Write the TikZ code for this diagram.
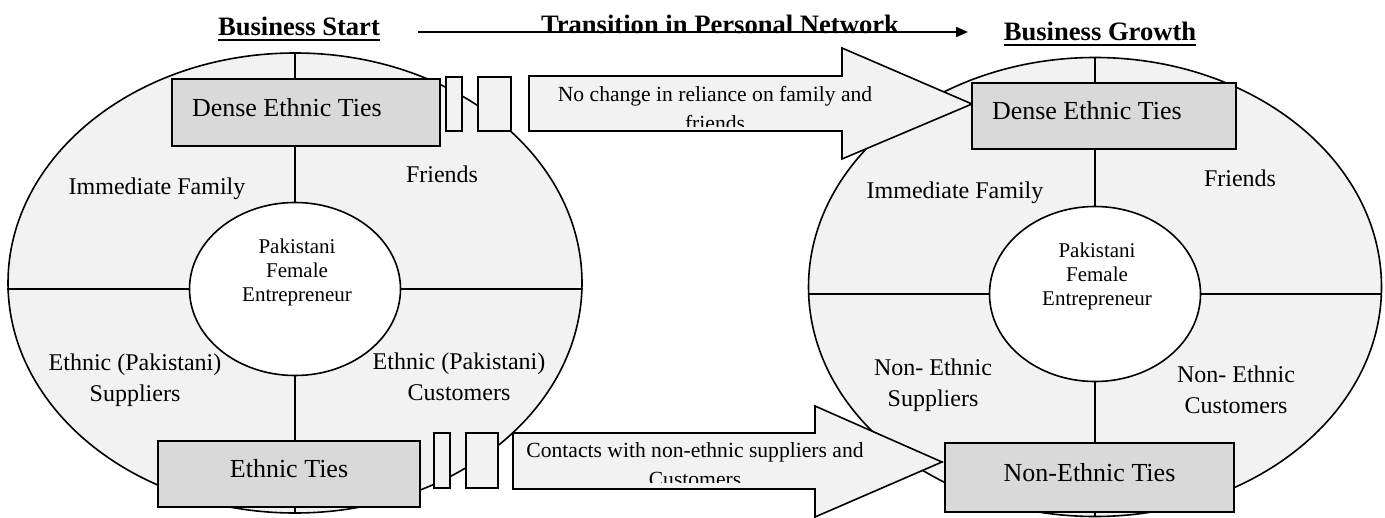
\documentclass[tikz,border=0pt]{standalone}
\usepackage{fontspec}
\setmainfont{Liberation Serif}
\usetikzlibrary{arrows.meta,shapes.geometric}

\definecolor{ringgray}{HTML}{F2F2F2}
\definecolor{tiesgray}{HTML}{D9D9D9}

% heavy underline for the stage headings
\newcommand{\stageul}[1]{\setbox0\hbox{#1}\copy0\llap{\rule[-2.6pt]{\wd0}{1.2pt}}}

\tikzset{
  ring/.style={draw, ellipse, line width=0.8pt, fill=ringgray, inner sep=0pt},
  core/.style={draw, ellipse, line width=0.8pt, fill=white, inner sep=0pt},
  coretext/.style={align=center, font=\fontsize{10.5}{12}\selectfont},
  sector/.style={align=center, font=\fontsize{12}{15.5}\selectfont},
  ties/.style={draw, line width=0.8pt, fill=tiesgray, inner sep=0pt, text depth=5.5pt,
    font=\fontsize{13}{15}\selectfont},
  densetie/.style={ties, inner xsep=10pt, align=flush left},
  slot/.style={draw, line width=0.8pt, fill=ringgray, inner sep=0pt},
  bigarrow/.style={draw, line width=0.8pt, fill=ringgray},
  arrownote/.style={align=center, font=\fontsize{10.8}{14.5}\selectfont},
  stage/.style={anchor=base, font=\fontsize{13.3}{16}\selectfont\bfseries},
}

\begin{document}
\begin{tikzpicture}[x=0.5pt, y=-0.5pt]
  \useasboundingbox (0,0) rectangle (1385,518);

  %%% network at business start
  \node[ring, minimum width=287pt, minimum height=230pt] (ringL) at (295,283) {};
  \node[core, minimum width=105.5pt, minimum height=86.5pt] (coreL) at (295,289) {};
  \draw[line width=0.8pt] (ringL.north) -- (coreL.north);
  \draw[line width=0.8pt] (coreL.south) -- (ringL.south);
  \draw[line width=0.8pt] (ringL.west |- coreL) -- (coreL.west);
  \draw[line width=0.8pt] (coreL.east) -- (ringL.east |- coreL);

  \node[coretext] (whoL) at (297,272) {Pakistani\\Female\\Entrepreneur};
  \node[sector] (familyL) at (157,189) {Immediate Family};
  \node[sector] (friendsL) at (442,174) {Friends};
  \node[sector] (suppliersL) at (135,380) {Ethnic (Pakistani)\\Suppliers};
  \node[sector] (customersL) at (459,377) {Ethnic (Pakistani)\\Customers};

  %%% network at business growth
  \node[ring, minimum width=286.5pt, minimum height=229.5pt] (ringR) at (1095,287) {};
  \node[core, minimum width=105.5pt, minimum height=87.5pt] (coreR) at (1095,294) {};
  \draw[line width=0.8pt] (ringR.north) -- (coreR.north);
  \draw[line width=0.8pt] (coreR.south) -- (ringR.south);
  \draw[line width=0.8pt] (ringR.west |- coreR) -- (coreR.west);
  \draw[line width=0.8pt] (coreR.east) -- (ringR.east |- coreR);

  \node[coretext] (whoR) at (1097,276) {Pakistani\\Female\\Entrepreneur};
  \node[sector] (familyR) at (955,193) {Immediate Family};
  \node[sector] (friendsR) at (1240,178) {Friends};
  \node[sector] (suppliersR) at (933,385) {Non- Ethnic\\Suppliers};
  \node[sector] (customersR) at (1236,390) {Non- Ethnic\\Customers};

  %%% upper block arrow
  \node[slot, minimum width=8pt, minimum height=27pt] (gapA) at (454,104) {};
  \node[slot, minimum width=16.5pt, minimum height=27pt] (gapB) at (494.5,104) {};
  \draw[bigarrow] (529,76) -- (842,76) -- (842,48) -- (972,104) -- (842,159)
    -- (842,131) -- (529,131) -- cycle;
  \begin{scope}
    \clip (529,76) rectangle (972,127);
    \node[arrownote] (keepnote) at (715,109) {No change in reliance on family and\\friends};
  \end{scope}

  %%% lower block arrow
  \node[slot, minimum width=8pt, minimum height=27.5pt] (gapC) at (442,460.5) {};
  \node[slot, minimum width=16pt, minimum height=27.5pt] (gapD) at (482,460.5) {};
  \draw[bigarrow] (513,433) -- (815,433) -- (815,406) -- (942,462) -- (815,517)
    -- (815,489) -- (513,489) -- cycle;
  \begin{scope}
    \clip (513,433) rectangle (942,482);
    \node[arrownote] (contactnote) at (695,465) {Contacts with non-ethnic suppliers and\\Customers};
  \end{scope}

  %%% tie boxes
  \node[densetie, text width=114pt, minimum height=33.5pt] (denseL) at (306,112.5) {Dense Ethnic Ties};
  \node[densetie, text width=112pt, minimum height=33pt] (denseR) at (1104,116) {Dense Ethnic Ties};
  \node[ties, minimum width=131pt, minimum height=33pt] (ethnicL) at (289,474) {Ethnic Ties};
  \node[ties, minimum width=144.5pt, minimum height=34.5pt] (nonethnicR) at (1089.5,477.5) {Non-Ethnic Ties};

  %%% headings
  \node[stage] (start) at (299,36) {\stageul{Business Start}};
  \node[stage] (shift) at (720,34) {Transition in Personal Network};
  \node[stage] (growth) at (1100,41) {\stageul{Business Growth}};
  \coordinate (shiftL) at (418,32);
  \coordinate (shiftR) at (968,32);
  \draw[line width=1pt, -{Triangle[length=6pt,width=5pt]}] (shiftL) -- (shiftR);
\end{tikzpicture}
\end{document}
